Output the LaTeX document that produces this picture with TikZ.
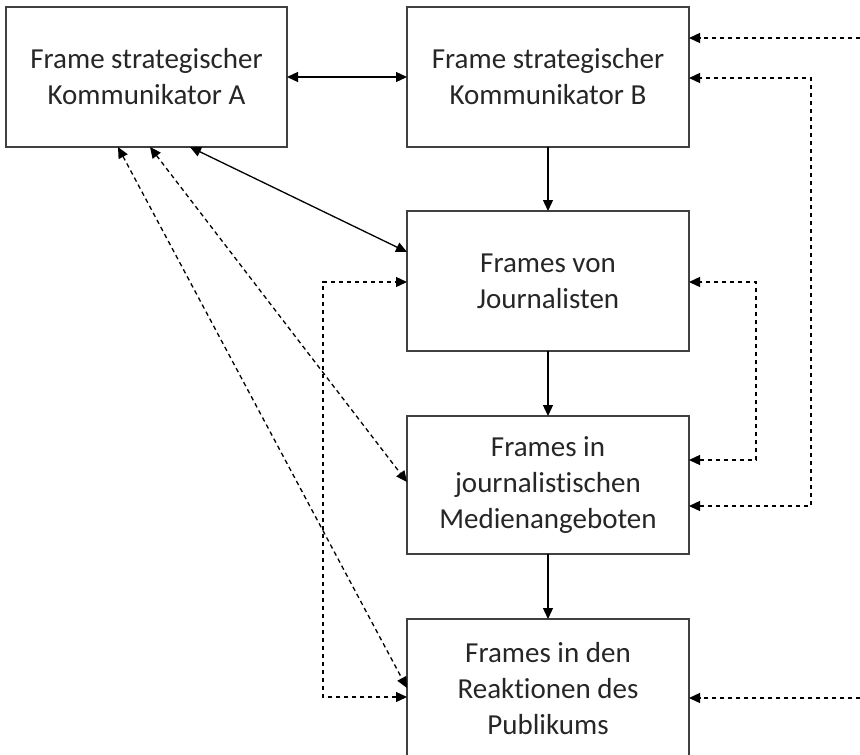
\documentclass[tikz,border=0pt]{standalone}
\usepackage{fontspec}
\setmainfont{Carlito}[Ligatures={NoCommon,NoRare}]
\usetikzlibrary{arrows.meta}
\definecolor{boxline}{HTML}{404040}
\definecolor{txt}{HTML}{262626}
\tikzset{
  fbox/.style={draw=boxline, line width=1.4pt, rectangle, inner sep=0pt, outer sep=0pt,
    minimum height=140pt, minimum width=282pt, align=center, text=txt,
    font=\fontsize{29}{36}\selectfont},
  tip/.style={-{Triangle[length=11pt,width=10pt]}},
  biptip/.style={{Triangle[length=11pt,width=10pt]}-{Triangle[length=11pt,width=10pt]}},
  sline/.style={draw=black, line width=1.3pt},
  dline/.style={draw=black, line width=1.3pt, dash pattern=on 4.5pt off 3.5pt},
}
\begin{document}
\begin{tikzpicture}[x=1pt,y=-1pt]
\useasboundingbox (0,0) rectangle (860,755);
\clip (0,0) rectangle (860,755);
\node[fbox, minimum width=281pt] (A) at (146.5,77) {Frame strategischer\\Kommunikator A};
\node[fbox] (B) at (548,77) {Frame strategischer\\Kommunikator B};
\node[fbox] (J) at (548,281) {Frames von\\Journalisten};
\node[fbox, minimum height=138pt] (M) at (548,485) {Frames in\\journalistischen\\Medienangeboten};
\node[fbox] (P) at (548,689) {Frames in den\\Reaktionen des\\Publikums};
\coordinate (R1) at (860,38);
\coordinate (R2) at (860,698);
% solid connectors
\draw[sline, biptip] (A.east) -- (B.west);
\draw[sline, tip] (B.south) -- (J.north);
\draw[sline, tip] (J.south) -- (M.north);
\draw[sline, tip] (M.south) -- (P.north);
\draw[sline, biptip] ([xshift=43.5pt]A.south) -- ([yshift=29pt]J.west);
% dashed diagonals
\draw[dline, biptip] ([xshift=3.5pt]A.south) -- ([yshift=3pt]M.west);
\draw[dline, biptip] ([xshift=-28.5pt]A.south) -- ([yshift=1pt]P.west);
% left loop
\draw[dline, biptip] ([yshift=-8pt]P.west) -- ++(-84,0) |- ([yshift=-1pt]J.west);
% right loops
\draw[dline, biptip] ([yshift=25pt]M.east) -- ++(67,0) |- ([yshift=-1pt]J.east);
\draw[dline, biptip] ([yshift=-21pt]M.east) -- ++(122,0) |- ([yshift=-1pt]B.east);
% incoming from the right
\draw[dline, tip] (R1) -- ([yshift=39pt]B.east);
\draw[dline, tip] (R2) -- ([yshift=-9pt]P.east);
\end{tikzpicture}
\end{document}
